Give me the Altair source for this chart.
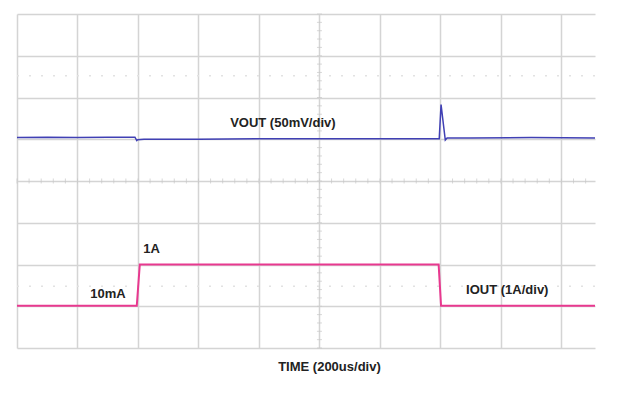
import altair as alt
import pandas as pd

# ---- data (time in us, 200 us/div) ----
vout_time_us = [0, 100, 200, 300, 390, 396, 399, 420, 600, 800, 1000, 1200, 1390, 1396, 1402, 1416, 1422, 1500, 1700, 1911]
vout_dev_mv = [2.0, 2.5, 2.0, 2.5, 2.5, -1.5, -0.5, 0.0, 0.0, 0.5, 0.5, 0.5, 0.5, 0.5, 41.5, -1.0, 1.5, 1.5, 2.0, 1.5]

iout_time_us = [0, 396, 406, 1394, 1402, 1911]
iout_a = [0.01, 0.01, 1.0, 1.0, 0.01, 0.01]

labels_text = ["VOUT (50mV/div)", "1A", "10mA", "IOUT (1A/div)", "TIME (200us/div)"]
labels_time_us = [879, 445, 301, 1621, 1033]
labels_div = [5.39, 2.36, 1.29, 1.38, -0.45]

x_grid_us = [0, 200, 400, 600, 800, 1000, 1200, 1400, 1600, 1800]
y_grid_div = [0, 1, 2, 3, 4, 5, 6, 7, 8]
dotted_div = [6.52, 1.48]

VOUT_DIV_MV = 50.0
VOUT_OFFSET_DIV = 5.0
IOUT_DIV_A = 1.0
IOUT_OFFSET_DIV = 1.0
X_MAX = 1911

vout_df = pd.DataFrame({"t": vout_time_us, "v": vout_dev_mv})
iout_df = pd.DataFrame({"t": iout_time_us, "i": iout_a})
lab_df = pd.DataFrame({"t": labels_time_us, "y": labels_div, "label": labels_text})
hticks = pd.DataFrame({"t": [k * 40 for k in range(0, 48)], "y": [4] * 48})
vticks = pd.DataFrame({"t": [1000] * 41, "y": [k * 0.2 for k in range(0, 41)]})
dot_df = pd.DataFrame({"y": dotted_div})

xs = alt.Scale(domain=[0, X_MAX], nice=False, zero=False)
ys = alt.Scale(domain=[0, 8], nice=False, zero=False)

x_axis = alt.Axis(values=x_grid_us, grid=True, labels=False, ticks=False, domain=False,
                  title=None, gridColor="#d4d4d4", gridWidth=1.5)
y_axis = alt.Axis(values=y_grid_div, grid=True, labels=False, ticks=False, domain=False,
                  title=None, gridColor="#d4d4d4", gridWidth=1.5)

base_grid = alt.Chart(pd.DataFrame({"t": [0], "y": [0]})).mark_point(opacity=0).encode(
    x=alt.X("t:Q", scale=xs, axis=x_axis),
    y=alt.Y("y:Q", scale=ys, axis=y_axis),
)

dotted = alt.Chart(dot_df).mark_rule(color="#e2e2e2", strokeWidth=1.5, strokeDash=[2, 10]).encode(
    y=alt.Y("y:Q", scale=ys),
    x=alt.value(0),
    x2=alt.value(578),
)

ht = alt.Chart(hticks).mark_tick(orient="vertical", size=5, thickness=1, color="#c8c8c8").encode(
    x=alt.X("t:Q", scale=xs), y=alt.Y("y:Q", scale=ys))
vt = alt.Chart(vticks).mark_tick(orient="horizontal", size=5, thickness=1, color="#c8c8c8").encode(
    x=alt.X("t:Q", scale=xs), y=alt.Y("y:Q", scale=ys))

vout = alt.Chart(vout_df).transform_calculate(
    d=f"{VOUT_OFFSET_DIV} + datum.v / {VOUT_DIV_MV}"
).mark_line(color="#4040b4", strokeWidth=1.5).encode(
    x=alt.X("t:Q", scale=xs), y=alt.Y("d:Q", scale=ys), order="t:Q")

iout = alt.Chart(iout_df).transform_calculate(
    d=f"{IOUT_OFFSET_DIV} + datum.i / {IOUT_DIV_A}"
).mark_line(color="#e8388f", strokeWidth=2).encode(
    x=alt.X("t:Q", scale=xs), y=alt.Y("d:Q", scale=ys), order="t:Q")

texts = alt.Chart(lab_df).mark_text(font="Liberation Sans", fontWeight="bold", fontSize=13,
                                    color="#222222", align="center", baseline="middle").encode(
    x=alt.X("t:Q", scale=xs), y=alt.Y("y:Q", scale=ys), text="label:N")

chart = alt.layer(base_grid, dotted, ht, vt, vout, iout, texts).properties(
    width=578, height=334
).configure(background="white").configure_view(strokeWidth=0, stroke="transparent")

chart.save("out.html", embed_options={"renderer": "svg", "actions": False})
